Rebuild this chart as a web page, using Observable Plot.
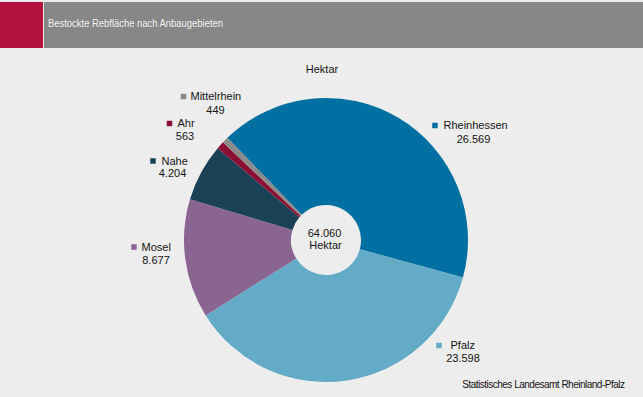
<!DOCTYPE html>
<html><head><meta charset="utf-8">
<script src="https://cdn.jsdelivr.net/npm/d3@7"></script>
<script src="https://cdn.jsdelivr.net/npm/@observablehq/plot@0.6"></script>
<style>
html,body{margin:0;padding:0;background:#ededed;}
body{width:643px;height:397px;overflow:hidden;font-family:"Liberation Sans",Arial,sans-serif;}
#header{position:relative;height:46px;margin-top:2px;}
#red{position:absolute;left:0;top:0;width:43px;height:46px;background:#b3123e;}
#bar{position:absolute;left:44px;top:0;right:0;height:46px;background:#878787;}
#title{position:absolute;left:4px;top:15px;color:#f2f2f2;font-size:11.5px;line-height:13px;white-space:nowrap;transform-origin:0 0;}
#chart svg{display:block;}
</style>
</head><body>
<div id="header"><div id="red"></div><div id="bar"><span id="title"></span></div></div>
<div id="chart"></div>
<script>
// ---- data ----
const titleText = "Bestockte Rebfläche nach Anbaugebieten";
const unitLabel = "Hektar";
const sourceText = "Statistisches Landesamt Rheinland-Pfalz";
const regions = ["Rheinhessen", "Pfalz", "Mosel", "Nahe", "Ahr", "Mittelrhein"];
const hectares = [26569, 23598, 8677, 4204, 563, 449];

// ---- styles ----
const sliceColors = ["#0070a3", "#64abc8", "#8b6592", "#1b4157", "#8a0f33", "#8a8a8a"];
const textColor = "#141414";

// ---- layout (pixels relative to pie centre) ----
const outerR = 142, innerR = 35;
const startDeg = -44;
const labelLayout = {
  "Rheinhessen": {marker: [108.5, -115], name: [117, -115], value: [147, -101.5]},
  "Pfalz":       {marker: [112.5, 105],  name: [124, 105],  value: [136.5, 117.5]},
  "Mosel":       {marker: [-192.5, 6.5], name: [-185, 6.5], value: [-170.5, 20]},
  "Nahe":        {marker: [-173.5, -79.5], name: [-165, -79.5], value: [-154, -67.5]},
  "Ahr":         {marker: [-157, -117], name: [-149, -117], value: [-141.5, -104.5]},
  "Mittelrhein": {marker: [-143, -144], name: [-136, -144], value: [-111, -130]}
};

const de = d3.formatLocale({decimal: ",", thousands: ".", grouping: [3], currency: ["", " €"]});
const fmt = de.format(",d");
const rows = regions.map((r, i) => ({region: r, value: hectares[i]}));
const total = d3.sum(hectares);

document.getElementById("title").textContent = titleText;
{
  const t = document.getElementById("title");
  const w = t.getBoundingClientRect().width;
  t.style.transform = `scaleX(${175 / w})`;
}

function pieMark(index, scales) {
  const cx = scales.x(0), cy = scales.y(0);
  const R = scales.x(outerR) - cx, r0 = scales.x(innerR) - cx;
  const a0 = startDeg * Math.PI / 180;
  const arcs = d3.pie().sort(null).value(d => d.value).startAngle(a0).endAngle(a0 + 2 * Math.PI)(rows);
  const color = d3.scaleOrdinal(regions, sliceColors);
  const g = d3.create("svg:g").attr("transform", `translate(${cx},${cy})`);
  g.selectAll("path").data(arcs).join("path")
    .attr("d", d3.arc().innerRadius(r0).outerRadius(R))
    .attr("fill", d => color(d.data.region));
  return g.node();
}

const L = d => labelLayout[d.region];
const font = "'Liberation Sans', Arial, sans-serif";

const plot = Plot.plot({
  width: 643, height: 349, margin: 0,
  style: {background: "transparent", fontFamily: font},
  x: {domain: [-326, 317], range: [0, 643], axis: null},
  y: {domain: [-192, 157], range: [0, 349], axis: null},
  color: {domain: regions, range: sliceColors},
  marks: [
    pieMark,
    Plot.dot(rows, {x: d => L(d).marker[0], y: d => L(d).marker[1], symbol: "square", r: 3.1, fill: "region"}),
    Plot.text(rows, {x: d => L(d).name[0], y: d => L(d).name[1], text: "region", textAnchor: "start", fontSize: 11, fill: textColor}),
    Plot.text(rows, {x: d => L(d).value[0], y: d => L(d).value[1], text: d => fmt(d.value), fontSize: 11, fill: textColor}),
    Plot.text([unitLabel], {x: -4.5, y: -171, text: d => d, fontSize: 11, fill: textColor}),
    Plot.text([fmt(total)], {x: -2, y: -7, text: d => d, fontSize: 11, fill: textColor}),
    Plot.text([unitLabel], {x: -1, y: 5, text: d => d, fontSize: 11, fill: textColor}),
    Plot.text([sourceText], {x: 298, y: 144, text: d => d, textAnchor: "end", fontSize: 10, fill: textColor})
  ]
});
d3.select(plot).selectAll("text").filter(function() { return this.textContent === sourceText; })
  .style("letter-spacing", "-0.5px");
document.getElementById("chart").appendChild(plot);
</script>
</body></html>
